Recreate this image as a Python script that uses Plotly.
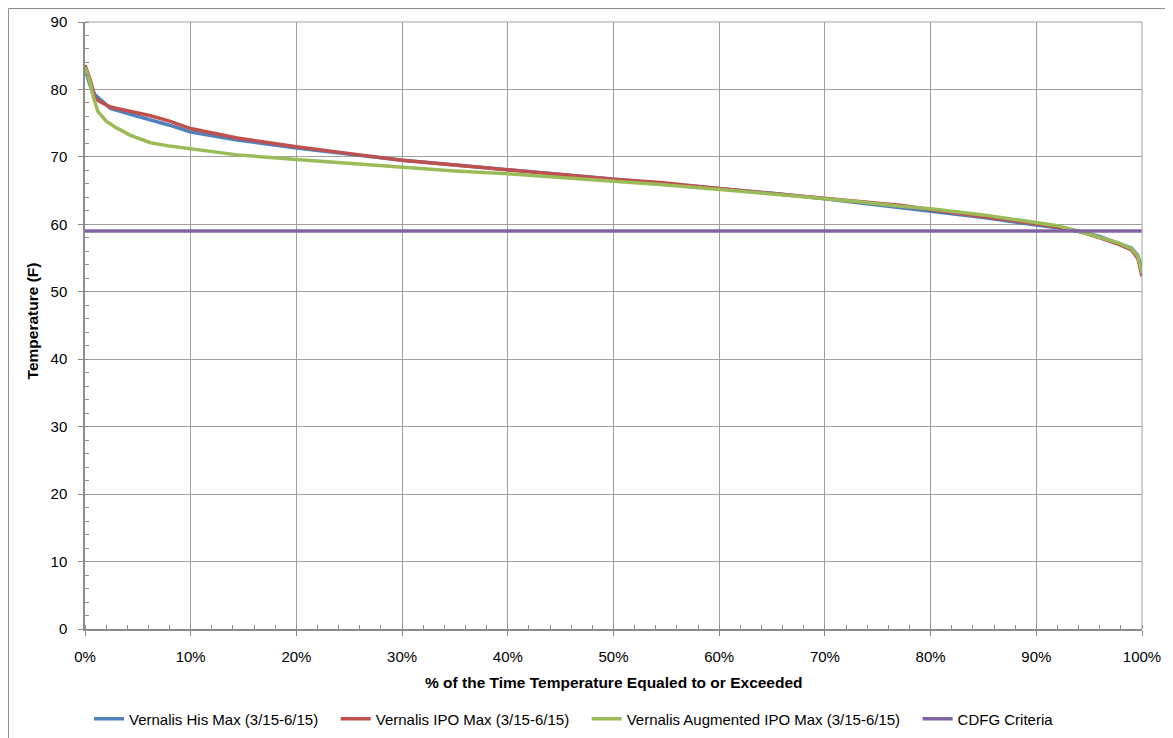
import plotly.graph_objects as go

# ---- data ----
his_x = [0, 0.5, 0.95, 2.4, 4.3, 6.2, 8, 10, 14.4, 20, 27, 30, 35, 40, 45, 50, 55, 60, 65, 70, 77.3, 80, 85, 90, 92, 94.2, 96, 97.7, 99, 99.6, 100]
his_y = [83.1, 80.5, 79.2, 77.2, 76.3, 75.5, 74.7, 73.7, 72.5, 71.3, 70.0, 69.5, 68.8, 68.1, 67.5, 66.8, 66.0, 65.3, 64.6, 63.8, 62.4, 62.0, 61.0, 59.9, 59.5, 58.9, 58.2, 57.2, 56.5, 55.4, 53.5]

ipo_x = [0, 0.5, 0.95, 1.4, 2.4, 4.3, 6.2, 8, 10, 14.4, 20, 26, 30, 35, 40, 45, 50, 54.4, 60, 65, 70, 77.3, 80, 85, 90, 92, 94.2, 96, 97.7, 99, 99.6, 100]
ipo_y = [83.6, 81.4, 78.7, 78.2, 77.4, 76.7, 76.1, 75.3, 74.2, 72.8, 71.5, 70.3, 69.5, 68.8, 68.05, 67.4, 66.7, 66.2, 65.3, 64.6, 63.9, 62.8, 62.2, 61.2, 60.1, 59.6, 58.9, 58.0, 57.1, 56.2, 55.0, 52.3]

aug_x = [0, 0.4, 0.8, 1.2, 2, 3, 4.3, 6.2, 8, 10, 14.4, 20, 27, 30, 35, 40, 45, 50, 54.4, 60, 65, 70, 73, 77, 80, 85, 90, 92, 94.2, 96, 97.7, 99, 99.6, 100]
aug_y = [83.3, 81.5, 78.8, 76.8, 75.3, 74.3, 73.2, 72.1, 71.6, 71.2, 70.3, 69.6, 68.8, 68.4, 67.9, 67.5, 67.0, 66.4, 65.9, 65.2, 64.5, 63.8, 63.4, 62.7, 62.3, 61.4, 60.3, 59.8, 58.9, 58.1, 57.3, 56.4, 55.3, 52.8]

criteria_x = [0, 100]
criteria_y = [59, 59]

names = ["Vernalis His Max (3/15-6/15)", "Vernalis IPO Max (3/15-6/15)",
         "Vernalis Augmented IPO Max (3/15-6/15)", "CDFG Criteria"]
colors = ["#4F81BD", "#C0504D", "#9BBB59", "#8064A2"]

x_ticks = list(range(0, 101, 10))
x_tick_labels = [f"{v}%" for v in x_ticks]
y_ticks = list(range(0, 91, 10))

pad = "\u00a0\u00a0\u00a0"
fig = go.Figure()
for i, (xs, ys, nm, c) in enumerate([(his_x, his_y, names[0], colors[0]),
                                     (ipo_x, ipo_y, names[1], colors[1]),
                                     (aug_x, aug_y, names[2], colors[2]),
                                     (criteria_x, criteria_y, names[3], colors[3])]):
    fig.add_trace(go.Scatter(x=xs, y=ys, mode="lines", name=nm + (pad if i < 3 else ""),
                             line=dict(color=c, width=3.5)))

font = "Liberation Sans, Arial, sans-serif"
grid = "#A0A0A0"
axis_common = dict(showgrid=True, gridcolor=grid, gridwidth=1,
                   showline=True, linecolor="#8C8C8C", linewidth=1.5,
                   ticks="outside", ticklen=5, tickcolor="#8C8C8C",
                   tickfont=dict(family=font, size=15, color="#000"),
                   zeroline=False, automargin=False)

fig.update_xaxes(range=[0, 100], tickmode="array", tickvals=x_ticks, ticktext=x_tick_labels,
                 ticklabelstandoff=8,
                 minor=dict(dtick=2, ticks="inside", ticklen=4, tickcolor="#8C8C8C", showgrid=False),
                 **axis_common)
fig.update_yaxes(range=[0, 90], tickmode="array", tickvals=y_ticks,
                 ticklabelstandoff=8,
                 minor=dict(dtick=2, ticks="inside", ticklen=4, tickcolor="#8C8C8C", showgrid=False),
                 **axis_common)

fig.update_layout(
    width=1165, height=730,
    margin=dict(l=77, r=31, t=14, b=109, autoexpand=False),
    paper_bgcolor="white", plot_bgcolor="white",
    font=dict(family=font, size=15, color="#000"),
    showlegend=True,
    legend=dict(orientation="h", xref="paper", x=0.4626, xanchor="center",
                yref="container", y=0.026, yanchor="middle",
                font=dict(family=font, size=15, color="#000"), itemwidth=30,
                tracegroupgap=0),
    annotations=[
        dict(text="<b>% of the Time Temperature Equaled to or Exceeded</b>",
             xref="paper", yref="paper", x=0.5, y=-0.088, xanchor="center", yanchor="middle",
             showarrow=False, font=dict(family=font, size=15.5, color="#000")),
        dict(text="<b>Temperature (F)</b>", textangle=-90,
             xref="paper", yref="paper", x=-0.05, y=0.507, xanchor="center", yanchor="middle",
             showarrow=False, font=dict(family=font, size=15.5, color="#000")),
    ],
    shapes=[
        dict(type="rect", xref="paper", yref="paper", x0=-0.0724, x1=1.2, y0=-0.3, y1=1.0222,
             line=dict(color="#8C8C8C", width=1), fillcolor="rgba(0,0,0,0)", layer="below"),
        dict(type="line", xref="paper", yref="paper", x0=0, x1=1, y0=1, y1=1,
             line=dict(color=grid, width=1)),
        dict(type="line", xref="paper", yref="paper", x0=1, x1=1, y0=0, y1=1,
             line=dict(color=grid, width=1)),
    ],
)

fig.write_html("out.html")
